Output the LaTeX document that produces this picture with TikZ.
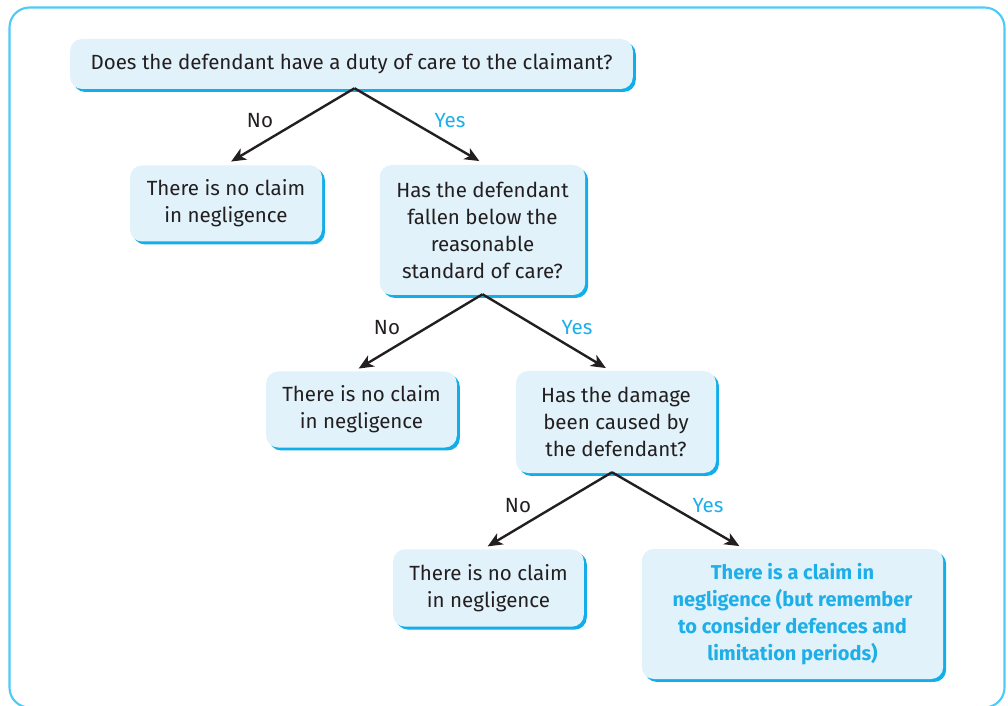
\documentclass[tikz,border=0pt]{standalone}
\usepackage{fontspec}
\setmainfont{Fira Sans}
\usetikzlibrary{arrows.meta,shadows,calc}
\definecolor{txt}{HTML}{231F20}
\definecolor{boxfill}{HTML}{E1F2FA}
\definecolor{shadowblue}{HTML}{12AEEA}
\definecolor{yesblue}{HTML}{1EAEE8}
\definecolor{framec}{HTML}{4FCBF5}
\begin{document}
\begin{tikzpicture}[x=0.75pt,y=-0.75pt,
  box/.style={fill=boxfill, rounded corners=9pt, inner sep=0pt, align=center,
    text=txt, font=\fontsize{15.4}{20.25}\selectfont,
    drop shadow={shadow xshift=2.2pt, shadow yshift=-2.2pt, fill=shadowblue, opacity=1}},
  conn/.style={draw=txt, line width=1.8pt, -{Stealth[length=11pt,width=9.5pt,inset=3pt]}, shorten >=1pt},
  nolab/.style={text=txt, font=\fontsize{15.4}{17}\selectfont},
  yeslab/.style={text=yesblue, font=\fontsize{15.4}{17}\selectfont}]
\useasboundingbox (0,0) rectangle (1008,706);
\draw[framec, line width=1.6pt, rounded corners=15pt] (9.5,7.5) rectangle (1004.5,707.5);

\node[box, minimum width=422pt, minimum height=37.5pt] (q1) at (351.5,64) {Does the defendant have a duty of care to the claimant?};
\node[box, minimum width=144pt, minimum height=57pt] (n1) at (226,203.5) {There is no claim\\in negligence};
\node[box, minimum width=154pt, minimum height=97.5pt] (q2) at (482.5,230) {Has the defendant\\fallen below the\\reasonable\\standard of care?};
\node[box, minimum width=143pt, minimum height=57pt] (n2) at (361.5,409.5) {There is no claim\\in negligence};
\node[box, minimum width=150pt, minimum height=76.5pt] (q3) at (616,422) {Has the damage\\been caused by\\the defendant?};
\node[box, minimum width=143pt, minimum height=58pt] (n3) at (488.5,588) {There is no claim\\in negligence};
\node[box, minimum width=226pt, minimum height=97.5pt, text=yesblue, font=\fontsize{15}{20.25}\selectfont\bfseries] (y3) at (792.5,614) {There is a claim in\\negligence (but remember\\to consider defences and\\limitation periods)};

\draw[conn] ($(q1.south)+(3,-1)$) -- ($(n1.north)+(4,-3)$);
\draw[conn] ($(q1.south)+(3,-1)$) -- ($(q2.north)+(-2,-3)$);
\draw[conn] ($(q2.south)+(0,-1)$) -- ($(n2.north)+(-4,-2)$);
\draw[conn] ($(q2.south)+(0,-1)$) -- ($(q3.north)+(-9,-2)$);
\draw[conn] ($(q3.south)+(-4,-1)$) -- ($(n3.north)+(-2,-2)$);
\draw[conn] ($(q3.south)+(-4,-1)$) -- ($(y3.north)+(-52,-2)$);

\node[nolab] (l1) at (260,121) {No};
\node[yeslab] (l2) at (450,121) {Yes};
\node[nolab] (l3) at (387,328) {No};
\node[yeslab] (l4) at (577,328) {Yes};
\node[nolab] (l5) at (518,506) {No};
\node[yeslab] (l6) at (708,506) {Yes};
\end{tikzpicture}
\end{document}
